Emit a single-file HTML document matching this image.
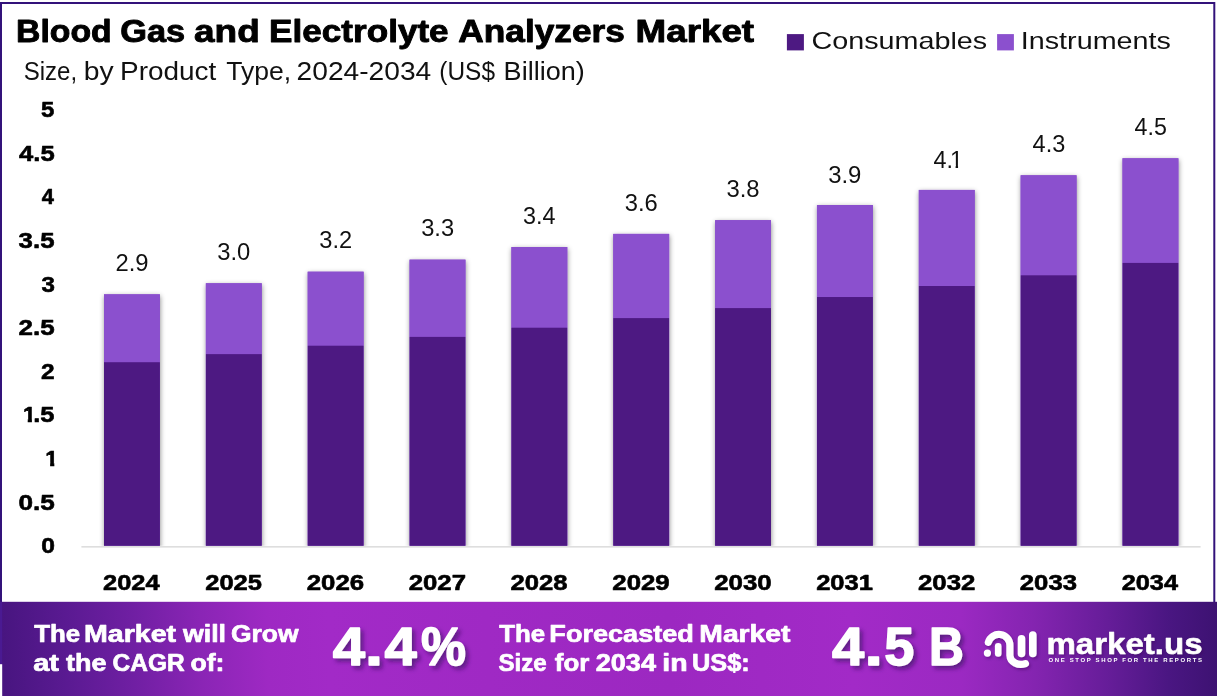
<!DOCTYPE html>
<html lang="en"><head><meta charset="utf-8"><title>Blood Gas and Electrolyte Analyzers Market</title>
<style>html,body{margin:0;padding:0;background:#fff;}body{width:1217px;height:697px;overflow:hidden;}</style></head>
<body>
<svg width="1217" height="697" viewBox="0 0 1217 697" style="display:block;will-change:transform;font-family:'Liberation Sans', sans-serif">
<defs>
<linearGradient id="bg" gradientUnits="userSpaceOnUse" x1="0" y1="660" x2="1217" y2="640">
<stop offset="0" stop-color="#47157F"/>
<stop offset="0.055" stop-color="#5A1A92"/>
<stop offset="0.11" stop-color="#701FA3"/>
<stop offset="0.165" stop-color="#8A25B5"/>
<stop offset="0.22" stop-color="#9E29C3"/>
<stop offset="0.27" stop-color="#A22AC7"/>
<stop offset="0.40" stop-color="#9F29C4"/>
<stop offset="0.55" stop-color="#9C28C1"/>
<stop offset="0.70" stop-color="#A22AC7"/>
<stop offset="0.79" stop-color="#9B29C2"/>
<stop offset="0.85" stop-color="#8424B0"/>
<stop offset="0.91" stop-color="#661D99"/>
<stop offset="0.96" stop-color="#4A1682"/>
<stop offset="1" stop-color="#3D1272"/>
</linearGradient>
<filter id="ts" x="-10%" y="-20%" width="125%" height="150%"><feDropShadow dx="3" dy="3.2" stdDeviation="2.2" flood-color="#35085a" flood-opacity="0.6"/></filter>
<filter id="ts2" x="-10%" y="-20%" width="125%" height="150%"><feDropShadow dx="1.5" dy="2" stdDeviation="1.5" flood-color="#3a0a5a" flood-opacity="0.45"/></filter>
<filter id="bs" x="-20%" y="-5%" width="140%" height="110%"><feDropShadow dx="0.4" dy="1.6" stdDeviation="2.6" flood-color="#000" flood-opacity="0.45"/></filter>
</defs>
<rect width="1217" height="697" fill="#fff"/>
<rect x="1" y="3" width="1213.3" height="600" fill="#fff" stroke="#33127A" stroke-width="2"/>
<rect x="0" y="601.8" width="1217" height="94.2" fill="url(#bg)"/>
<rect x="0" y="601.8" width="2.2" height="62.4" fill="#4A1A92"/>
<rect x="0" y="664.2" width="2.2" height="33" fill="#fff"/>
<rect x="81.4" y="546.2" width="1119.2" height="1.3" fill="#D6D6D6"/>
<clipPath id="cb"><rect x="0" y="0" width="1217" height="545.8"/></clipPath>
<g clip-path="url(#cb)"><g filter="url(#bs)">
<rect x="104.00" y="294.32" width="55.9" height="261.48" fill="#8B50CE"/>
<rect x="205.85" y="283.25" width="55.9" height="272.55" fill="#8B50CE"/>
<rect x="307.70" y="271.70" width="55.9" height="284.10" fill="#8B50CE"/>
<rect x="409.55" y="259.64" width="55.9" height="296.16" fill="#8B50CE"/>
<rect x="511.40" y="247.05" width="55.9" height="308.75" fill="#8B50CE"/>
<rect x="613.25" y="233.90" width="55.9" height="321.90" fill="#8B50CE"/>
<rect x="715.10" y="220.18" width="55.9" height="335.62" fill="#8B50CE"/>
<rect x="816.95" y="205.02" width="55.9" height="350.78" fill="#8B50CE"/>
<rect x="918.80" y="189.94" width="55.9" height="365.86" fill="#8B50CE"/>
<rect x="1020.65" y="175.28" width="55.9" height="380.52" fill="#8B50CE"/>
<rect x="1122.50" y="158.28" width="55.9" height="397.52" fill="#8B50CE"/>
</g></g>
<rect x="104.00" y="294.32" width="55.9" height="67.90" fill="#8B50CE"/>
<rect x="104.00" y="362.22" width="55.9" height="183.58" fill="#4D1982"/>
<rect x="205.85" y="283.25" width="55.9" height="70.89" fill="#8B50CE"/>
<rect x="205.85" y="354.14" width="55.9" height="191.66" fill="#4D1982"/>
<rect x="307.70" y="271.70" width="55.9" height="74.01" fill="#8B50CE"/>
<rect x="307.70" y="345.71" width="55.9" height="200.09" fill="#4D1982"/>
<rect x="409.55" y="259.64" width="55.9" height="77.26" fill="#8B50CE"/>
<rect x="409.55" y="336.90" width="55.9" height="208.90" fill="#4D1982"/>
<rect x="511.40" y="247.05" width="55.9" height="80.66" fill="#8B50CE"/>
<rect x="511.40" y="327.71" width="55.9" height="218.09" fill="#4D1982"/>
<rect x="613.25" y="233.90" width="55.9" height="84.21" fill="#8B50CE"/>
<rect x="613.25" y="318.11" width="55.9" height="227.69" fill="#4D1982"/>
<rect x="715.10" y="220.18" width="55.9" height="87.92" fill="#8B50CE"/>
<rect x="715.10" y="308.10" width="55.9" height="237.70" fill="#4D1982"/>
<rect x="816.95" y="205.02" width="55.9" height="92.01" fill="#8B50CE"/>
<rect x="816.95" y="297.03" width="55.9" height="248.77" fill="#4D1982"/>
<rect x="918.80" y="189.94" width="55.9" height="96.08" fill="#8B50CE"/>
<rect x="918.80" y="286.02" width="55.9" height="259.78" fill="#4D1982"/>
<rect x="1020.65" y="175.28" width="55.9" height="100.04" fill="#8B50CE"/>
<rect x="1020.65" y="275.32" width="55.9" height="270.48" fill="#4D1982"/>
<rect x="1122.50" y="158.28" width="55.9" height="104.63" fill="#8B50CE"/>
<rect x="1122.50" y="262.91" width="55.9" height="282.89" fill="#4D1982"/>
<rect x="786.9" y="34.1" width="17" height="16.3" fill="#4D1982"/>
<rect x="997.1" y="34.1" width="16.8" height="16.3" fill="#8B50CE"/>
<g fill="none" stroke="#fff" stroke-linecap="round" stroke-linejoin="round" filter="url(#ts2)">
<path d="M988.3 642.4 A11 10.9 0 0 1 1009.9 645.4 L1009.9 655.5 A11 9.1 0 0 0 1025.4 663.6" stroke-width="7.2"/>
<path d="M998.2 646.4 L998.2 653.5" stroke-width="6.6"/>
<path d="M1021.5 638.9 L1021.5 653.5" stroke-width="7.6"/>
<path d="M1032.8 635 L1032.8 653.5" stroke-width="7.6"/>
<circle cx="987.4" cy="653.1" r="3.6" fill="#fff" stroke="none"/>
</g>
<clipPath id="c1_0"><rect x="43.30" y="443.10" width="22.90" height="19.50"/><rect x="50.14" y="443.10" width="4.16" height="23.90"/></clipPath>
<text x="45.30" y="466.00" font-size="22.9" font-weight="700" fill="#000" stroke="#000" stroke-width="0.6" stroke-linejoin="round" clip-path="url(#c1_0)">1</text>
<clipPath id="c1_1"><rect x="20.90" y="399.50" width="22.90" height="19.50"/><rect x="27.74" y="399.50" width="4.16" height="23.90"/></clipPath>
<text x="22.90" y="422.40" font-size="22.9" font-weight="700" fill="#000" stroke="#000" stroke-width="0.6" stroke-linejoin="round" clip-path="url(#c1_1)">1</text>
<clipPath id="c1_2"><rect x="947.93" y="144.64" width="23.30" height="20.85"/><rect x="955.58" y="144.64" width="2.47" height="24.30"/></clipPath>
<text x="949.93" y="167.94" font-size="23.3" font-weight="400" fill="#111" clip-path="url(#c1_2)">1</text>
<text x="16.11" y="41.80" font-size="31.6" font-weight="700" fill="#000" stroke="#000" stroke-width="0.9" stroke-linejoin="round" textLength="95.61" lengthAdjust="spacingAndGlyphs">Blood</text>
<text x="120.28" y="41.80" font-size="31.6" font-weight="700" fill="#000" stroke="#000" stroke-width="0.9" stroke-linejoin="round" textLength="64.88" lengthAdjust="spacingAndGlyphs">Gas</text>
<text x="194.08" y="41.80" font-size="31.6" font-weight="700" fill="#000" stroke="#000" stroke-width="0.9" stroke-linejoin="round" textLength="65.68" lengthAdjust="spacingAndGlyphs">and</text>
<text x="269.13" y="41.80" font-size="31.6" font-weight="700" fill="#000" stroke="#000" stroke-width="0.9" stroke-linejoin="round" textLength="179.53" lengthAdjust="spacingAndGlyphs">Electrolyte</text>
<text x="458.36" y="41.80" font-size="31.6" font-weight="700" fill="#000" stroke="#000" stroke-width="0.9" stroke-linejoin="round" textLength="166.49" lengthAdjust="spacingAndGlyphs">Analyzers</text>
<text x="635.59" y="41.80" font-size="31.6" font-weight="700" fill="#000" stroke="#000" stroke-width="0.9" stroke-linejoin="round" textLength="118.53" lengthAdjust="spacingAndGlyphs">Market</text>
<text x="23.68" y="79.50" font-size="25.0" font-weight="400" fill="#111" textLength="53.43" lengthAdjust="spacingAndGlyphs">Size,</text>
<text x="83.84" y="79.50" font-size="25.0" font-weight="400" fill="#111" textLength="29.89" lengthAdjust="spacingAndGlyphs">by</text>
<text x="120.05" y="79.50" font-size="25.0" font-weight="400" fill="#111" textLength="96.23" lengthAdjust="spacingAndGlyphs">Product</text>
<text x="226.36" y="79.50" font-size="25.0" font-weight="400" fill="#111" textLength="64.86" lengthAdjust="spacingAndGlyphs">Type,</text>
<text x="296.59" y="79.50" font-size="25.0" font-weight="400" fill="#111" textLength="134.63" lengthAdjust="spacingAndGlyphs">2024-2034</text>
<text x="439.36" y="79.50" font-size="25.0" font-weight="400" fill="#111" textLength="55.63" lengthAdjust="spacingAndGlyphs">(US$</text>
<text x="503.61" y="79.50" font-size="25.0" font-weight="400" fill="#111" textLength="81.13" lengthAdjust="spacingAndGlyphs">Billion)</text>
<text x="811.52" y="48.90" font-size="23.4" font-weight="400" fill="#111" textLength="175.65" lengthAdjust="spacingAndGlyphs">Consumables</text>
<text x="1020.81" y="48.90" font-size="23.4" font-weight="400" fill="#111" textLength="150.12" lengthAdjust="spacingAndGlyphs">Instruments</text>
<text x="41.15" y="553.20" font-size="22.9" font-weight="700" fill="#000" stroke="#000" stroke-width="0.6" stroke-linejoin="round" textLength="13.69" lengthAdjust="spacingAndGlyphs">0</text>
<text x="18.43" y="509.60" font-size="22.9" font-weight="700" fill="#000" stroke="#000" stroke-width="0.6" stroke-linejoin="round" textLength="36.34" lengthAdjust="spacingAndGlyphs">0.5</text>
<text x="33.20" y="422.40" font-size="22.9" font-weight="700" fill="#000" stroke="#000" stroke-width="0.6" stroke-linejoin="round" textLength="21.26" lengthAdjust="spacingAndGlyphs">.5</text>
<text x="41.10" y="378.80" font-size="22.9" font-weight="700" fill="#000" stroke="#000" stroke-width="0.6" stroke-linejoin="round" textLength="13.59" lengthAdjust="spacingAndGlyphs">2</text>
<text x="18.55" y="335.20" font-size="22.9" font-weight="700" fill="#000" stroke="#000" stroke-width="0.6" stroke-linejoin="round" textLength="36.15" lengthAdjust="spacingAndGlyphs">2.5</text>
<text x="41.53" y="291.60" font-size="22.9" font-weight="700" fill="#000" stroke="#000" stroke-width="0.6" stroke-linejoin="round" textLength="13.42" lengthAdjust="spacingAndGlyphs">3</text>
<text x="18.63" y="248.00" font-size="22.9" font-weight="700" fill="#000" stroke="#000" stroke-width="0.6" stroke-linejoin="round" textLength="35.85" lengthAdjust="spacingAndGlyphs">3.5</text>
<text x="41.81" y="204.40" font-size="22.9" font-weight="700" fill="#000" stroke="#000" stroke-width="0.6" stroke-linejoin="round" textLength="12.17" lengthAdjust="spacingAndGlyphs">4</text>
<text x="19.06" y="160.80" font-size="22.9" font-weight="700" fill="#000" stroke="#000" stroke-width="0.6" stroke-linejoin="round" textLength="35.65" lengthAdjust="spacingAndGlyphs">4.5</text>
<text x="41.14" y="117.20" font-size="22.9" font-weight="700" fill="#000" stroke="#000" stroke-width="0.6" stroke-linejoin="round" textLength="13.33" lengthAdjust="spacingAndGlyphs">5</text>
<text x="103.02" y="589.50" font-size="22.2" font-weight="700" fill="#000" stroke="#000" stroke-width="0.6" stroke-linejoin="round" textLength="56.58" lengthAdjust="spacingAndGlyphs">2024</text>
<text x="205.19" y="589.50" font-size="22.2" font-weight="700" fill="#000" stroke="#000" stroke-width="0.6" stroke-linejoin="round" textLength="56.76" lengthAdjust="spacingAndGlyphs">2025</text>
<text x="306.79" y="589.50" font-size="22.2" font-weight="700" fill="#000" stroke="#000" stroke-width="0.6" stroke-linejoin="round" textLength="57.34" lengthAdjust="spacingAndGlyphs">2026</text>
<text x="408.70" y="589.50" font-size="22.2" font-weight="700" fill="#000" stroke="#000" stroke-width="0.6" stroke-linejoin="round" textLength="57.32" lengthAdjust="spacingAndGlyphs">2027</text>
<text x="510.46" y="589.50" font-size="22.2" font-weight="700" fill="#000" stroke="#000" stroke-width="0.6" stroke-linejoin="round" textLength="57.13" lengthAdjust="spacingAndGlyphs">2028</text>
<text x="612.34" y="589.50" font-size="22.2" font-weight="700" fill="#000" stroke="#000" stroke-width="0.6" stroke-linejoin="round" textLength="57.39" lengthAdjust="spacingAndGlyphs">2029</text>
<text x="714.21" y="589.50" font-size="22.2" font-weight="700" fill="#000" stroke="#000" stroke-width="0.6" stroke-linejoin="round" textLength="57.52" lengthAdjust="spacingAndGlyphs">2030</text>
<text x="816.15" y="589.50" font-size="22.2" font-weight="700" fill="#000" stroke="#000" stroke-width="0.6" stroke-linejoin="round" textLength="56.84" lengthAdjust="spacingAndGlyphs">2031</text>
<text x="917.96" y="589.50" font-size="22.2" font-weight="700" fill="#000" stroke="#000" stroke-width="0.6" stroke-linejoin="round" textLength="57.39" lengthAdjust="spacingAndGlyphs">2032</text>
<text x="1019.82" y="589.50" font-size="22.2" font-weight="700" fill="#000" stroke="#000" stroke-width="0.6" stroke-linejoin="round" textLength="57.18" lengthAdjust="spacingAndGlyphs">2033</text>
<text x="1121.66" y="589.50" font-size="22.2" font-weight="700" fill="#000" stroke="#000" stroke-width="0.6" stroke-linejoin="round" textLength="56.32" lengthAdjust="spacingAndGlyphs">2034</text>
<text x="115.43" y="270.92" font-size="23.3" font-weight="400" fill="#111" textLength="33.06" lengthAdjust="spacingAndGlyphs">2.9</text>
<text x="217.21" y="259.85" font-size="23.3" font-weight="400" fill="#111" textLength="33.05" lengthAdjust="spacingAndGlyphs">3.0</text>
<text x="319.35" y="248.30" font-size="23.3" font-weight="400" fill="#111" textLength="32.91" lengthAdjust="spacingAndGlyphs">3.2</text>
<text x="421.18" y="236.24" font-size="23.3" font-weight="400" fill="#111" textLength="32.96" lengthAdjust="spacingAndGlyphs">3.3</text>
<text x="522.94" y="223.65" font-size="23.3" font-weight="400" fill="#111" textLength="32.48" lengthAdjust="spacingAndGlyphs">3.4</text>
<text x="624.69" y="210.50" font-size="23.3" font-weight="400" fill="#111" textLength="33.03" lengthAdjust="spacingAndGlyphs">3.6</text>
<text x="726.48" y="196.78" font-size="23.3" font-weight="400" fill="#111" textLength="33.14" lengthAdjust="spacingAndGlyphs">3.8</text>
<text x="828.20" y="183.02" font-size="23.3" font-weight="400" fill="#111" textLength="33.20" lengthAdjust="spacingAndGlyphs">3.9</text>
<text x="933.57" y="167.94" font-size="23.3" font-weight="400" fill="#111" textLength="19.44" lengthAdjust="spacingAndGlyphs">4.</text>
<text x="1032.58" y="151.88" font-size="23.3" font-weight="400" fill="#111" textLength="32.68" lengthAdjust="spacingAndGlyphs">4.3</text>
<text x="1134.58" y="134.88" font-size="23.3" font-weight="400" fill="#111" textLength="32.28" lengthAdjust="spacingAndGlyphs">4.5</text>
<text x="34.20" y="641.50" font-size="24.0" font-weight="700" fill="#fff" stroke="#fff" stroke-width="0.7" stroke-linejoin="round" textLength="45.91" lengthAdjust="spacingAndGlyphs">The</text>
<text x="84.06" y="641.50" font-size="24.0" font-weight="700" fill="#fff" stroke="#fff" stroke-width="0.7" stroke-linejoin="round" textLength="92.09" lengthAdjust="spacingAndGlyphs">Market</text>
<text x="182.98" y="641.50" font-size="24.0" font-weight="700" fill="#fff" stroke="#fff" stroke-width="0.7" stroke-linejoin="round" textLength="43.04" lengthAdjust="spacingAndGlyphs">will</text>
<text x="230.93" y="641.50" font-size="24.0" font-weight="700" fill="#fff" stroke="#fff" stroke-width="0.7" stroke-linejoin="round" textLength="67.55" lengthAdjust="spacingAndGlyphs">Grow</text>
<text x="33.28" y="671.20" font-size="24.0" font-weight="700" fill="#fff" stroke="#fff" stroke-width="0.7" stroke-linejoin="round" textLength="25.74" lengthAdjust="spacingAndGlyphs">at</text>
<text x="66.07" y="671.20" font-size="24.0" font-weight="700" fill="#fff" stroke="#fff" stroke-width="0.7" stroke-linejoin="round" textLength="40.38" lengthAdjust="spacingAndGlyphs">the</text>
<text x="112.54" y="671.20" font-size="24.0" font-weight="700" fill="#fff" stroke="#fff" stroke-width="0.7" stroke-linejoin="round" textLength="72.12" lengthAdjust="spacingAndGlyphs">CAGR</text>
<text x="190.44" y="671.20" font-size="24.0" font-weight="700" fill="#fff" stroke="#fff" stroke-width="0.7" stroke-linejoin="round" textLength="33.96" lengthAdjust="spacingAndGlyphs">of:</text>
<g filter="url(#ts)">
<text x="332.68" y="665.30" font-size="53.8" font-weight="700" fill="#fff" stroke="#fff" stroke-width="1.4" stroke-linejoin="round" textLength="32.28" lengthAdjust="spacingAndGlyphs">4</text>
<text x="365.01" y="665.30" font-size="53.8" font-weight="700" fill="#fff" stroke="#fff" stroke-width="1.4" stroke-linejoin="round" textLength="17.98" lengthAdjust="spacingAndGlyphs">.</text>
<text x="384.52" y="665.30" font-size="53.8" font-weight="700" fill="#fff" stroke="#fff" stroke-width="1.4" stroke-linejoin="round" textLength="32.20" lengthAdjust="spacingAndGlyphs">4</text>
<text x="420.99" y="665.30" font-size="53.8" font-weight="700" fill="#fff" stroke="#fff" stroke-width="1.4" stroke-linejoin="round" textLength="44.95" lengthAdjust="spacingAndGlyphs">%</text>
</g>
<text x="499.20" y="641.50" font-size="24.0" font-weight="700" fill="#fff" stroke="#fff" stroke-width="0.7" stroke-linejoin="round" textLength="45.91" lengthAdjust="spacingAndGlyphs">The</text>
<text x="549.39" y="641.50" font-size="24.0" font-weight="700" fill="#fff" stroke="#fff" stroke-width="0.7" stroke-linejoin="round" textLength="144.46" lengthAdjust="spacingAndGlyphs">Forecasted</text>
<text x="699.37" y="641.50" font-size="24.0" font-weight="700" fill="#fff" stroke="#fff" stroke-width="0.7" stroke-linejoin="round" textLength="91.13" lengthAdjust="spacingAndGlyphs">Market</text>
<text x="498.49" y="671.20" font-size="24.0" font-weight="700" fill="#fff" stroke="#fff" stroke-width="0.7" stroke-linejoin="round" textLength="48.28" lengthAdjust="spacingAndGlyphs">Size</text>
<text x="554.77" y="671.20" font-size="24.0" font-weight="700" fill="#fff" stroke="#fff" stroke-width="0.7" stroke-linejoin="round" textLength="34.49" lengthAdjust="spacingAndGlyphs">for</text>
<text x="595.73" y="671.20" font-size="24.0" font-weight="700" fill="#fff" stroke="#fff" stroke-width="0.7" stroke-linejoin="round" textLength="60.24" lengthAdjust="spacingAndGlyphs">2034</text>
<text x="662.32" y="671.20" font-size="24.0" font-weight="700" fill="#fff" stroke="#fff" stroke-width="0.7" stroke-linejoin="round" textLength="25.29" lengthAdjust="spacingAndGlyphs">in</text>
<text x="692.02" y="671.20" font-size="24.0" font-weight="700" fill="#fff" stroke="#fff" stroke-width="0.7" stroke-linejoin="round" textLength="57.66" lengthAdjust="spacingAndGlyphs">US$:</text>
<g filter="url(#ts)">
<text x="831.99" y="665.30" font-size="53.8" font-weight="700" fill="#fff" stroke="#fff" stroke-width="1.4" stroke-linejoin="round" textLength="32.21" lengthAdjust="spacingAndGlyphs">4</text>
<text x="864.47" y="665.30" font-size="53.8" font-weight="700" fill="#fff" stroke="#fff" stroke-width="1.4" stroke-linejoin="round" textLength="18.31" lengthAdjust="spacingAndGlyphs">.</text>
<text x="884.36" y="665.30" font-size="53.8" font-weight="700" fill="#fff" stroke="#fff" stroke-width="1.4" stroke-linejoin="round" textLength="30.03" lengthAdjust="spacingAndGlyphs">5</text>
<text x="929.12" y="665.30" font-size="53.8" font-weight="700" fill="#fff" stroke="#fff" stroke-width="1.4" stroke-linejoin="round" textLength="34.87" lengthAdjust="spacingAndGlyphs">B</text>
</g>
<text x="1046.47" y="653.60" font-size="30.2" font-weight="700" fill="#fff" stroke="#fff" stroke-width="0.5" stroke-linejoin="round" textLength="156.16" lengthAdjust="spacingAndGlyphs" filter="url(#ts2)">market.us</text>
<text x="1048.58" y="662.30" font-size="6.0" font-weight="700" fill="#fff" textLength="153.38" lengthAdjust="spacing">ONE STOP SHOP FOR THE REPORTS</text>
</svg>
</body></html>
